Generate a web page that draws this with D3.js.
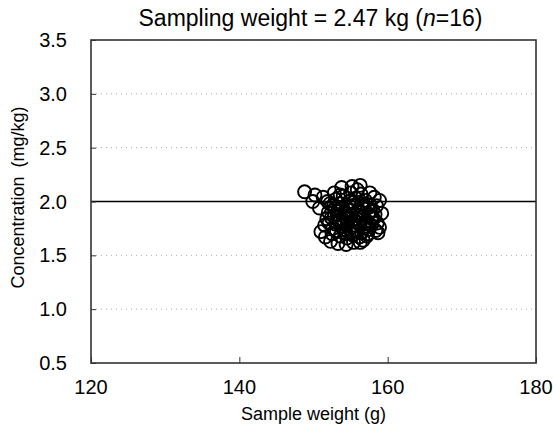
<!DOCTYPE html>
<html>
<head>
<meta charset="utf-8">
<script src="https://cdn.jsdelivr.net/npm/d3@7"></script>
<style>
  body { margin: 0; background: #fff; }
  text { font-family: "Liberation Sans", Arial, sans-serif; fill: #000; }
</style>
</head>
<body>
<div id="chart"></div>
<script>
// data
var sampleWeight = [
  148.8, 150.2, 149.9, 151.3, 152.2, 151.0, 151.6, 152.3, 153.3, 154.4,
  156.3, 157.2, 158.7, 158.9, 159.2, 158.9, 157.6, 156.3, 155.2, 153.8,
  152.8, 152.0, 152.4, 152.1, 152.6, 152.9, 153.0, 153.2, 153.4, 153.1,
  153.6, 153.7, 153.9, 154.0, 154.1, 154.3, 154.5, 154.6, 154.7, 154.8,
  155.0, 155.1, 155.2, 155.3, 155.5, 155.6, 155.7, 155.8, 156.0, 156.1,
  156.2, 156.4, 156.5, 156.6, 156.8, 156.9, 157.0, 157.1, 157.3, 157.4,
  157.6, 157.8, 158.0, 158.1, 158.2, 158.4, 158.5, 152.5, 153.5, 154.2,
  155.4, 156.7, 157.5, 155.9, 154.9, 153.8, 152.7, 151.8, 151.5, 151.9,
  150.8, 157.9, 158.6, 155.0, 156.3, 154.4, 153.3, 154.6, 155.8, 156.9,
  157.7, 153.0, 154.1, 155.3, 156.5, 157.3, 152.8, 154.0, 155.6, 156.8,
  158.3, 153.6, 155.1, 156.1, 157.0
];
var concentration = [
  2.09, 2.06, 2.00, 2.04, 1.98, 1.72, 1.67, 1.63, 1.61, 1.60,
  1.62, 1.68, 1.71, 1.76, 1.89, 2.01, 2.08, 2.15, 2.14, 2.13,
  2.08, 1.90, 1.85, 1.80, 1.75, 1.94, 2.02, 1.88, 1.82, 1.72,
  1.68, 1.77, 1.95, 2.05, 1.86, 1.73, 1.66, 1.80, 1.92, 2.00,
  2.08, 1.88, 1.76, 1.69, 1.83, 1.96, 2.03, 1.72, 1.90, 1.80,
  1.67, 2.07, 1.98, 1.85, 1.75, 1.93, 2.01, 1.82, 1.70, 1.88,
  1.97, 1.78, 1.92, 1.84, 2.04, 1.73, 1.96, 1.70, 1.98, 1.90,
  1.62, 1.64, 1.74, 2.11, 1.85, 1.79, 1.96, 1.84, 1.78, 2.00,
  1.94, 1.86, 1.80, 1.95, 1.78, 1.70, 1.92, 1.87, 1.84, 1.79,
  1.91, 1.79, 1.74, 1.99, 1.71, 1.94, 1.86, 1.83, 1.78, 1.97,
  1.88, 2.06, 1.71, 1.87, 1.77
];
var xTicks = [120, 140, 160, 180];
var yTicks = [0.5, 1.0, 1.5, 2.0, 2.5, 3.0, 3.5];
var referenceLevel = 2.0;

var width = 553, height = 437;
var margin = {top: 40, right: 17, bottom: 74, left: 91};
var w = width - margin.left - margin.right,
    h = height - margin.top - margin.bottom;

var svg = d3.select("#chart").append("svg")
    .attr("width", width)
    .attr("height", height);
var g = svg.append("g").attr("transform", "translate(" + margin.left + "," + margin.top + ")");

var x = d3.scaleLinear().domain([120, 180]).range([0, w]);
var y = d3.scaleLinear().domain([0.5, 3.5]).range([h, 0]);

// dotted gridlines
g.selectAll(".grid")
    .data(yTicks.filter(function (d) { return d != 0.5 && d != referenceLevel; }))
    .enter().append("line")
    .attr("class", "grid")
    .attr("x1", 0).attr("x2", w)
    .attr("y1", function (d) { return y(d); })
    .attr("y2", function (d) { return y(d); })
    .attr("stroke", "#aaa")
    .attr("stroke-width", 1)
    .attr("stroke-dasharray", "1,4");

// reference line
g.append("line")
    .attr("x1", 0).attr("x2", w)
    .attr("y1", y(referenceLevel)).attr("y2", y(referenceLevel))
    .attr("stroke", "#000")
    .attr("stroke-width", 1.5);

// points
g.selectAll("circle")
    .data(sampleWeight)
    .enter().append("circle")
    .attr("cx", function (d) { return x(d); })
    .attr("cy", function (d, i) { return y(concentration[i]); })
    .attr("r", 6.5)
    .attr("fill", "none")
    .attr("stroke", "#000")
    .attr("stroke-width", 1.9);

// frame
g.append("rect")
    .attr("width", w).attr("height", h)
    .attr("fill", "none")
    .attr("stroke", "#333")
    .attr("stroke-width", 1.6);

// axes with inward ticks
var xAxis = g.append("g")
    .attr("transform", "translate(0," + h + ")")
    .call(d3.axisTop(x).tickValues(xTicks).tickSize(6).tickFormat(""));
xAxis.select(".domain").remove();
xAxis.selectAll("line").attr("stroke", "#333");

var yAxis = g.append("g")
    .call(d3.axisRight(y).tickValues(yTicks).tickSize(5).tickFormat(""));
yAxis.select(".domain").remove();
yAxis.selectAll("line").attr("stroke", "#333");

// tick labels
g.selectAll(".xlab")
    .data(xTicks)
    .enter().append("text")
    .attr("x", function (d) { return x(d); })
    .attr("y", h + 31)
    .attr("text-anchor", "middle")
    .style("font-size", "20px")
    .text(function (d) { return d; });

g.selectAll(".ylab")
    .data(yTicks)
    .enter().append("text")
    .attr("x", -24)
    .attr("y", function (d) { return y(d) + 7; })
    .attr("text-anchor", "end")
    .style("font-size", "20px")
    .text(function (d) { return d.toFixed(1); });

// axis titles
g.append("text")
    .attr("x", w / 2)
    .attr("y", h + 57)
    .attr("text-anchor", "middle")
    .style("font-size", "18px")
    .text("Sample weight (g)");

g.append("text")
    .attr("transform", "rotate(-90)")
    .attr("x", -h / 2 + 4)
    .attr("y", -67)
    .attr("text-anchor", "middle")
    .style("font-size", "18px")
    .style("word-spacing", "4px")
    .text("Concentration (mg/kg)");

// title
var title = svg.append("text")
    .attr("x", margin.left + w / 2 - 3)
    .attr("y", 26)
    .attr("text-anchor", "middle")
    .style("font-size", "23px");
title.append("tspan").text("Sampling weight = 2.47 kg (");
title.append("tspan").style("font-style", "italic").text("n");
title.append("tspan").text("=16)");
</script>
</body>
</html>
